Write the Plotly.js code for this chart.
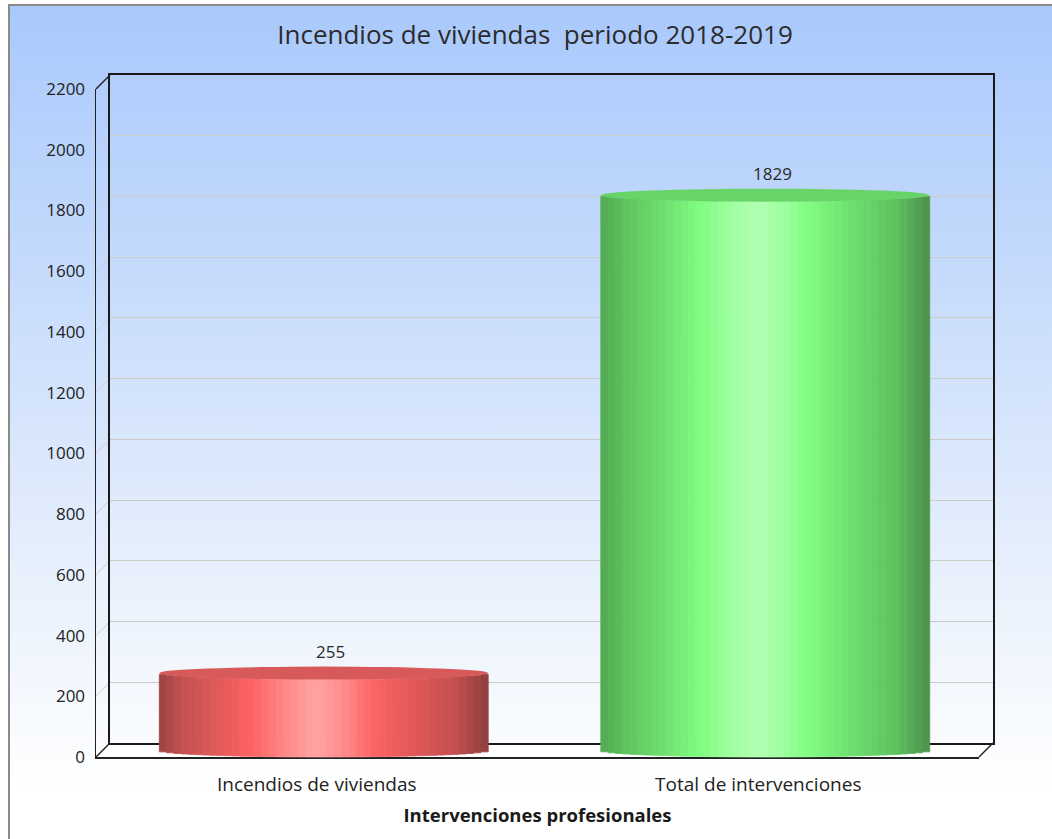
<!DOCTYPE html>
<html>
<head>
<meta charset="utf-8">
<script src="https://cdn.plot.ly/plotly-3.0.1.min.js"></script>
<style>
  html, body { margin: 0; padding: 0; width: 1052px; height: 839px; overflow: hidden; background: #ffffff; }
  #bg { position: absolute; left: 8px; top: 4px; width: 1060px; height: 850px;
        border-top: 2px solid #8a8a8a; border-left: 2px solid #8a8a8a;
        background: linear-gradient(to bottom, #a9c9fc 0%, #c9ddfc 35%, #e6effc 65%, #ffffff 92%); }
  #chart { position: absolute; left: 0; top: 0; width: 1052px; height: 839px; }
</style>
</head>
<body>
<div id="bg"></div>
<div id="chart"></div>
<script>
// ---- data ----
const categories = ['Incendios de viviendas', 'Total de intervenciones'];
const values = [255, 1829];
const chartTitle = 'Incendios de viviendas\u00A0\u00A0periodo 2018-2019';
const xTitle = 'Intervenciones profesionales';
const yMax = 2200;
const yStep = 200;

// ---- geometry (pixel frame of the pseudo-3D box) ----
const Wd = 1052, Ht = 839, L = 90, R = 50, T = 70, B = 70;
const pw = Wd - L - R, ph = Ht - T - B;
const fx = p => (p - L) / pw;
const fy = p => (Ht - B - p) / ph;
const front = {x0: 96, x1: 979, y0: 757, y1: 89};
const back  = {x0: 110, x1: 993, y0: 743, y1: 75};
const midX = [103, 986];
const pxPerUnit = (back.y0 - back.y1) / yMax;
const mid0 = 750.5, midMin = -30;
const midBottomPx = mid0 - midMin * pxPerUnit;
const midTopPx = mid0 - yMax * pxPerUnit;

// ---- cylinder colours ----
const redStops = [[0,'#9a4242'],[0.06,'#c04f4f'],[0.16,'#dc5858'],[0.28,'#fd6262'],[0.36,'#ff7f7f'],[0.47,'#ffa3a3'],[0.55,'#ff9090'],[0.66,'#fb6262'],[0.78,'#e05858'],[0.9,'#c44f4f'],[1,'#8e3e3e']];
const greenStops = [[0,'#52a852'],[0.08,'#5fc45f'],[0.18,'#6edc6e'],[0.3,'#80fc80'],[0.4,'#a0ffa0'],[0.48,'#b2ffb2'],[0.56,'#9cff9c'],[0.64,'#80fb80'],[0.76,'#70e070'],[0.9,'#5fc05f'],[1,'#4a924a']];
const topColors = ['#d85959', '#68d468'];

function hex2rgb(h){ return [parseInt(h.substr(1,2),16), parseInt(h.substr(3,2),16), parseInt(h.substr(5,2),16)]; }
function grad(stops, u){
  for (let i = 1; i < stops.length; i++){
    if (u <= stops[i][0]){
      const a = stops[i-1], b = stops[i];
      const t = (u - a[0]) / (b[0] - a[0]);
      const ca = hex2rgb(a[1]), cb = hex2rgb(b[1]);
      const c = ca.map((v,k) => Math.round(v + (cb[k]-v)*t));
      return 'rgb(' + c.join(',') + ')';
    }
  }
  return stops[stops.length-1][1];
}

const barW = 0.745;        // fraction of category slot
const ellH = 6.5;          // half height of the cylinder ellipses in px
const ellUnits = ellH / pxPerUnit;
const N = 45;
const traces = [];
for (let k = 0; k < N; k++){
  const u = (k + 0.5) / N;
  const s = 2*u - 1;
  const h = ellUnits * Math.sqrt(Math.max(0, 1 - s*s));
  const cols = [grad(redStops, u), grad(greenStops, u)];
  traces.push({
    type: 'bar', x: categories, y: values,
    xaxis: 'x3', yaxis: 'y3',
    base: -h,
    offset: -barW/2 + k*barW/N, width: barW/N,
    marker: {color: cols, line: {width: 0.8, color: cols}},
    hoverinfo: 'skip', showlegend: false
  });
}
// empty traces so the front and back axes are drawn
traces.push({type: 'scatter', x: categories, y: [null, null], xaxis: 'x', yaxis: 'y', hoverinfo: 'skip', showlegend: false});
traces.push({type: 'scatter', x: [0], y: [null], xaxis: 'x2', yaxis: 'y2', hoverinfo: 'skip', showlegend: false});

const shapes = [];
// floor
shapes.push({type: 'path', xref: 'paper', yref: 'paper', layer: 'below',
  path: `M ${fx(front.x0)},${fy(front.y0)} L ${fx(back.x0)},${fy(back.y0)} L ${fx(back.x1)},${fy(back.y0)} L ${fx(front.x1)},${fy(front.y0)} Z`,
  fillcolor: '#ffffff', line: {width: 0}});
// diagonal grid stubs on the left wall
for (let v = yStep; v < yMax; v += yStep){
  const yf = front.y0 - v * (front.y0 - front.y1) / yMax;
  const yb = back.y0 - v * (back.y0 - back.y1) / yMax;
  shapes.push({type: 'line', xref: 'paper', yref: 'paper', layer: 'below',
    x0: fx(front.x0), y0: fy(yf), x1: fx(back.x0), y1: fy(yb), line: {color: '#cdcdcd', width: 1}});
}
// frame diagonals
[[front.x0, front.y1, back.x0, back.y1],[front.x0, front.y0, back.x0, back.y0],[front.x1, front.y0, back.x1, back.y0]].forEach(d => {
  shapes.push({type: 'line', xref: 'paper', yref: 'paper', x0: fx(d[0]), y0: fy(d[1]), x1: fx(d[2]), y1: fy(d[3]), line: {color: '#222222', width: 1.5}});
});
// cylinder tops
values.forEach((v, i) => {
  shapes.push({type: 'circle', xref: 'x3', yref: 'y3', layer: 'above',
    x0: i - barW/2, x1: i + barW/2, ysizemode: 'pixel', yanchor: v, y0: -ellH, y1: ellH,
    fillcolor: topColors[i], line: {width: 0}});
});

const annotations = values.map((v, i) => ({
  xref: 'x3', yref: 'y3', x: i, y: v, text: String(v), showarrow: false,
  yshift: 22, xshift: 7, font: {family: 'Open Sans, sans-serif', size: 17, color: '#2a2a2a'}
}));

const layout = {
  width: Wd, height: Ht, autosize: false,
  margin: {l: L, r: R, t: T, b: B},
  paper_bgcolor: 'rgba(0,0,0,0)', plot_bgcolor: 'rgba(0,0,0,0)',
  font: {family: 'Open Sans, sans-serif', color: '#222222'},
  title: {text: chartTitle, x: 535/Wd, xanchor: 'center', y: 1 - 35/Ht, yanchor: 'middle', yref: 'container',
          font: {family: 'Open Sans, sans-serif', size: 26, color: '#2b2b2b'}},
  barmode: 'overlay', showlegend: false,
  xaxis: {domain: [fx(front.x0), fx(front.x1)], anchor: 'y', type: 'category', range: [-0.5, 1.5],
          showline: true, linecolor: '#222222', linewidth: 1.5, showgrid: false, zeroline: false,
          ticks: '', ticklabelstandoff: 10, tickfont: {size: 19, color: '#222222'},
          title: {text: xTitle, standoff: 13, font: {size: 18.5, color: '#1a1a1a', weight: 'bold'}}, fixedrange: true},
  yaxis: {domain: [fy(front.y0), fy(front.y1)], anchor: 'x', range: [0, yMax], dtick: yStep, tick0: 0,
          showline: true, linecolor: '#222222', linewidth: 1.5, showgrid: false, zeroline: false,
          ticks: '', ticklabelstandoff: 6, tickfont: {size: 17, color: '#222222'}, fixedrange: true},
  xaxis2: {domain: [fx(back.x0), fx(back.x1)], anchor: 'y2', range: [-0.5, 1.5],
           showline: true, mirror: true, linecolor: '#1a1a1a', linewidth: 2, showgrid: false, zeroline: false,
           showticklabels: false, ticks: '', fixedrange: true},
  yaxis2: {domain: [fy(back.y0), fy(back.y1)], anchor: 'x2', range: [0, yMax], dtick: yStep, tick0: 0,
           showline: true, mirror: true, linecolor: '#1a1a1a', linewidth: 2, showgrid: true, gridcolor: '#cbcac6', gridwidth: 1,
           zeroline: false, showticklabels: false, ticks: '', fixedrange: true},
  xaxis3: {domain: [fx(midX[0]), fx(midX[1])], anchor: 'y3', type: 'category', range: [-0.5, 1.5], visible: false, fixedrange: true},
  yaxis3: {domain: [fy(midBottomPx), fy(midTopPx)], anchor: 'x3', range: [midMin, yMax], visible: false, fixedrange: true},
  shapes: shapes,
  annotations: annotations
};

Plotly.newPlot('chart', traces, layout, {displayModeBar: false, staticPlot: true});
</script>
</body>
</html>
